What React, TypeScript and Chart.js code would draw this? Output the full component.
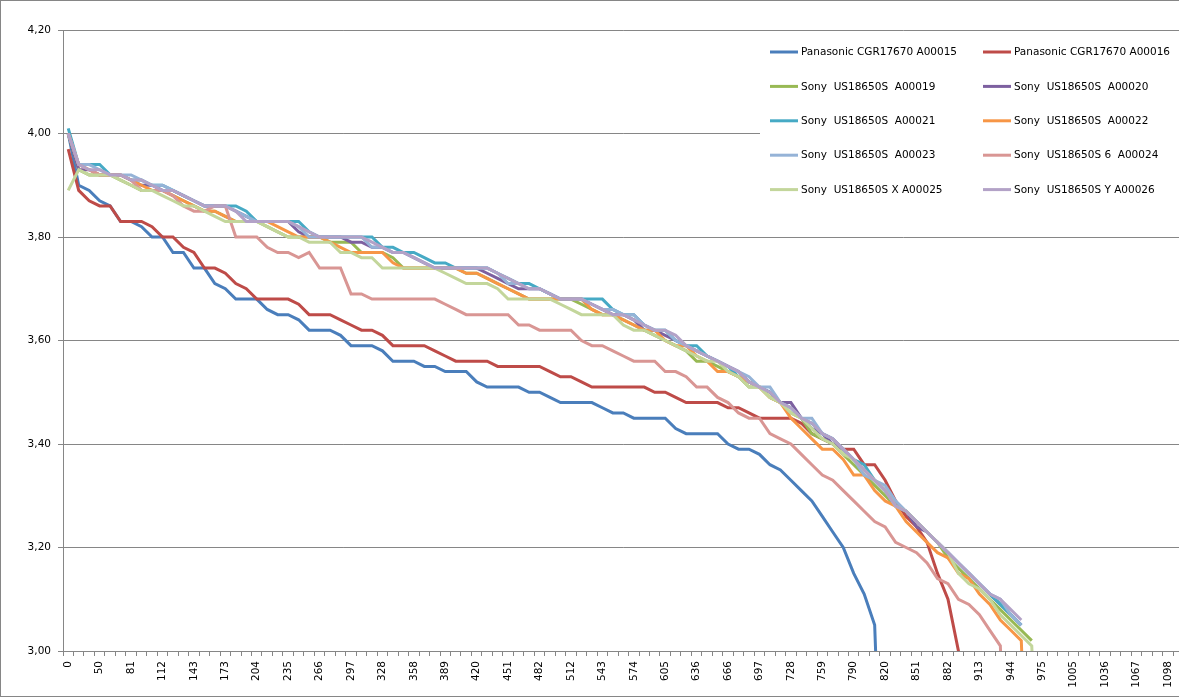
import { useEffect, useRef } from "react";
import Chart from "chart.js/auto";

Chart.defaults.font.family = "'DejaVu Sans', sans-serif";
Chart.defaults.font.size = 10.5;
Chart.defaults.color = "#000";

const AXIS = "#868686";

// time axis (every third value is labelled)
const TIME = [
  0, 29, 40, 50, 60, 71, 81, 91, 102, 112, 122, 133, 143, 153, 163, 173, 184, 194, 204, 215, 225, 235, 246, 256,
  266, 276, 287, 297, 307, 317, 328, 338, 348, 358, 369, 379, 389, 399, 410, 420, 430, 441, 451, 461, 471, 482,
  492, 502, 512, 523, 533, 543, 553, 564, 574, 584, 595, 605, 615, 625, 636, 646, 656, 666, 677, 687, 697, 707,
  718, 728, 738, 748, 759, 769, 779, 790, 800, 810, 820, 831, 841, 851, 861, 872, 882, 892, 902, 913, 923, 933,
  944, 954, 964, 975, 985, 995, 1005, 1016, 1026, 1036, 1046, 1057, 1067, 1077, 1087, 1098, 1108,
];

const A00015 = [
  4.0, 3.9, 3.89, 3.87, 3.86, 3.83, 3.83, 3.82, 3.8, 3.8,
  3.77, 3.77, 3.74, 3.74, 3.71, 3.7, 3.68, 3.68, 3.68, 3.66,
  3.65, 3.65, 3.64, 3.62, 3.62, 3.62, 3.61, 3.59, 3.59, 3.59,
  3.58, 3.56, 3.56, 3.56, 3.55, 3.55, 3.54, 3.54, 3.54, 3.52,
  3.51, 3.51, 3.51, 3.51, 3.5, 3.5, 3.49, 3.48, 3.48, 3.48,
  3.48, 3.47, 3.46, 3.46, 3.45, 3.45, 3.45, 3.45, 3.43, 3.42,
  3.42, 3.42, 3.42, 3.4, 3.39, 3.39, 3.38, 3.36, 3.35, 3.33,
  3.31, 3.29, 3.26, 3.23, 3.2, 3.15, 3.11, 3.05, 2.5,
];
const A00016 = [
  3.97, 3.89, 3.87, 3.86, 3.86, 3.83, 3.83, 3.83, 3.82, 3.8,
  3.8, 3.78, 3.77, 3.74, 3.74, 3.73, 3.71, 3.7, 3.68, 3.68,
  3.68, 3.68, 3.67, 3.65, 3.65, 3.65, 3.64, 3.63, 3.62, 3.62,
  3.61, 3.59, 3.59, 3.59, 3.59, 3.58, 3.57, 3.56, 3.56, 3.56,
  3.56, 3.55, 3.55, 3.55, 3.55, 3.55, 3.54, 3.53, 3.53, 3.52,
  3.51, 3.51, 3.51, 3.51, 3.51, 3.51, 3.5, 3.5, 3.49, 3.48,
  3.48, 3.48, 3.48, 3.47, 3.47, 3.46, 3.45, 3.45, 3.45, 3.45,
  3.44, 3.42, 3.41, 3.4, 3.39, 3.39, 3.36, 3.36, 3.33, 3.29,
  3.26, 3.24, 3.21, 3.15, 3.1, 3.0, 2.5,
];
const A00019 = [
  4.0, 3.93, 3.92, 3.92, 3.92, 3.91, 3.9, 3.89, 3.89, 3.89,
  3.88, 3.87, 3.86, 3.85, 3.85, 3.84, 3.83, 3.83, 3.83, 3.82,
  3.81, 3.8, 3.8, 3.8, 3.8, 3.79, 3.79, 3.79, 3.77, 3.77,
  3.77, 3.76, 3.74, 3.74, 3.74, 3.74, 3.74, 3.74, 3.73, 3.73,
  3.72, 3.71, 3.7, 3.69, 3.68, 3.68, 3.68, 3.68, 3.68, 3.67,
  3.66, 3.65, 3.65, 3.64, 3.63, 3.62, 3.61, 3.6, 3.59, 3.58,
  3.56, 3.56, 3.55, 3.54, 3.53, 3.51, 3.51, 3.49, 3.48, 3.46,
  3.45, 3.42, 3.41, 3.4, 3.38, 3.36, 3.34, 3.32, 3.3, 3.28,
  3.27, 3.25, 3.23, 3.21, 3.18, 3.16, 3.14, 3.12, 3.1, 3.08,
  3.06, 3.04, 3.02,
];
const A00020 = [
  4.0, 3.93, 3.93, 3.92, 3.92, 3.92, 3.91, 3.9, 3.9, 3.89,
  3.89, 3.88, 3.87, 3.86, 3.86, 3.86, 3.85, 3.84, 3.83, 3.83,
  3.83, 3.83, 3.81, 3.8, 3.8, 3.8, 3.8, 3.79, 3.79, 3.78,
  3.78, 3.77, 3.77, 3.76, 3.75, 3.74, 3.74, 3.74, 3.74, 3.74,
  3.73, 3.72, 3.71, 3.7, 3.7, 3.7, 3.69, 3.68, 3.68, 3.68,
  3.67, 3.66, 3.65, 3.65, 3.64, 3.62, 3.62, 3.61, 3.6, 3.59,
  3.58, 3.57, 3.56, 3.55, 3.54, 3.52, 3.51, 3.5, 3.48, 3.48,
  3.45, 3.43, 3.42, 3.4, 3.39, 3.37, 3.35, 3.33, 3.31, 3.28,
  3.27, 3.24, 3.23, 3.21, 3.19, 3.17, 3.15, 3.13, 3.11, 3.09,
  3.07, 3.05,
];
const A00021 = [
  4.01, 3.94, 3.94, 3.94, 3.92, 3.92, 3.91, 3.91, 3.9, 3.9,
  3.89, 3.88, 3.87, 3.86, 3.86, 3.86, 3.86, 3.85, 3.83, 3.83,
  3.83, 3.83, 3.83, 3.81, 3.8, 3.8, 3.8, 3.8, 3.8, 3.8,
  3.78, 3.78, 3.77, 3.77, 3.76, 3.75, 3.75, 3.74, 3.74, 3.74,
  3.74, 3.73, 3.72, 3.71, 3.71, 3.7, 3.69, 3.68, 3.68, 3.68,
  3.68, 3.68, 3.66, 3.65, 3.65, 3.63, 3.62, 3.62, 3.6, 3.59,
  3.59, 3.57, 3.56, 3.55, 3.53, 3.52, 3.51, 3.5, 3.48, 3.47,
  3.45, 3.44, 3.42, 3.41, 3.39, 3.37, 3.36, 3.33, 3.31, 3.28,
  3.27, 3.25, 3.23, 3.21, 3.19, 3.17, 3.15, 3.13, 3.11, 3.09,
  3.07, 3.05,
];
const A00022 = [
  4.0, 3.94, 3.93, 3.92, 3.92, 3.92, 3.91, 3.9, 3.89, 3.89,
  3.88, 3.87, 3.86, 3.85, 3.85, 3.84, 3.83, 3.83, 3.83, 3.83,
  3.82, 3.81, 3.8, 3.8, 3.8, 3.79, 3.78, 3.77, 3.77, 3.77,
  3.77, 3.75, 3.74, 3.74, 3.74, 3.74, 3.74, 3.74, 3.73, 3.73,
  3.72, 3.71, 3.7, 3.69, 3.68, 3.68, 3.68, 3.68, 3.68, 3.68,
  3.66, 3.65, 3.65, 3.64, 3.63, 3.62, 3.62, 3.6, 3.59, 3.59,
  3.57, 3.56, 3.54, 3.54, 3.53, 3.52, 3.51, 3.49, 3.48, 3.45,
  3.43, 3.41, 3.39, 3.39, 3.37, 3.34, 3.34, 3.31, 3.29, 3.28,
  3.25, 3.23, 3.21, 3.19, 3.18, 3.15, 3.14, 3.11, 3.09, 3.06,
  3.04, 3.02, 2.5,
];
const A00023 = [
  4.0, 3.94, 3.94, 3.93, 3.92, 3.92, 3.92, 3.91, 3.9, 3.9,
  3.89, 3.88, 3.87, 3.86, 3.86, 3.86, 3.85, 3.84, 3.83, 3.83,
  3.83, 3.83, 3.82, 3.8, 3.8, 3.8, 3.8, 3.8, 3.8, 3.78,
  3.78, 3.77, 3.77, 3.76, 3.75, 3.74, 3.74, 3.74, 3.74, 3.74,
  3.74, 3.73, 3.71, 3.71, 3.7, 3.7, 3.69, 3.68, 3.68, 3.68,
  3.67, 3.66, 3.66, 3.65, 3.65, 3.63, 3.62, 3.62, 3.6, 3.59,
  3.58, 3.57, 3.56, 3.55, 3.54, 3.53, 3.51, 3.51, 3.48, 3.47,
  3.45, 3.45, 3.42, 3.41, 3.39, 3.37, 3.34, 3.33, 3.32, 3.29,
  3.27, 3.25, 3.23, 3.21, 3.19, 3.17, 3.15, 3.13, 3.11, 3.1,
  3.07, 3.05,
];
const A00024 = [
  4.0, 3.94, 3.93, 3.92, 3.92, 3.92, 3.91, 3.89, 3.89, 3.89,
  3.88, 3.86, 3.85, 3.85, 3.86, 3.86, 3.8, 3.8, 3.8, 3.78,
  3.77, 3.77, 3.76, 3.77, 3.74, 3.74, 3.74, 3.69, 3.69, 3.68,
  3.68, 3.68, 3.68, 3.68, 3.68, 3.68, 3.67, 3.66, 3.65, 3.65,
  3.65, 3.65, 3.65, 3.63, 3.63, 3.62, 3.62, 3.62, 3.62, 3.6,
  3.59, 3.59, 3.58, 3.57, 3.56, 3.56, 3.56, 3.54, 3.54, 3.53,
  3.51, 3.51, 3.49, 3.48, 3.46, 3.45, 3.45, 3.42, 3.41, 3.4,
  3.38, 3.36, 3.34, 3.33, 3.31, 3.29, 3.27, 3.25, 3.24, 3.21,
  3.2, 3.19, 3.17, 3.14, 3.13, 3.1, 3.09, 3.07, 3.04, 3.01,
  2.5,
];
const A00025 = [
  3.89, 3.93, 3.92, 3.92, 3.92, 3.91, 3.9, 3.89, 3.89, 3.88,
  3.87, 3.86, 3.86, 3.85, 3.84, 3.83, 3.83, 3.83, 3.83, 3.82,
  3.81, 3.8, 3.8, 3.79, 3.79, 3.79, 3.77, 3.77, 3.76, 3.76,
  3.74, 3.74, 3.74, 3.74, 3.74, 3.74, 3.73, 3.72, 3.71, 3.71,
  3.71, 3.7, 3.68, 3.68, 3.68, 3.68, 3.68, 3.67, 3.66, 3.65,
  3.65, 3.65, 3.65, 3.63, 3.62, 3.62, 3.61, 3.6, 3.59, 3.58,
  3.57, 3.56, 3.56, 3.54, 3.53, 3.51, 3.51, 3.49, 3.48, 3.46,
  3.45, 3.43, 3.41, 3.4, 3.38, 3.37, 3.35, 3.33, 3.31, 3.28,
  3.27, 3.25, 3.23, 3.21, 3.19, 3.15, 3.13, 3.12, 3.1, 3.07,
  3.05, 3.03, 3.01, 2.5,
];
const A00026 = [
  4.0, 3.94, 3.93, 3.93, 3.92, 3.92, 3.91, 3.91, 3.9, 3.89,
  3.89, 3.88, 3.87, 3.86, 3.86, 3.86, 3.85, 3.83, 3.83, 3.83,
  3.83, 3.83, 3.82, 3.81, 3.8, 3.8, 3.8, 3.8, 3.8, 3.79,
  3.78, 3.77, 3.77, 3.76, 3.75, 3.74, 3.74, 3.74, 3.74, 3.74,
  3.74, 3.73, 3.72, 3.71, 3.7, 3.7, 3.69, 3.68, 3.68, 3.68,
  3.67, 3.66, 3.65, 3.65, 3.64, 3.63, 3.62, 3.62, 3.61, 3.59,
  3.58, 3.57, 3.56, 3.55, 3.54, 3.52, 3.51, 3.5, 3.48, 3.47,
  3.45, 3.44, 3.42, 3.41, 3.39, 3.37, 3.35, 3.33, 3.31, 3.28,
  3.27, 3.25, 3.23, 3.21, 3.19, 3.17, 3.15, 3.13, 3.11, 3.1,
  3.08, 3.06,
];

const NAMES = [
  "Panasonic CGR17670 A00015",
  "Panasonic CGR17670 A00016",
  "Sony  US18650S  A00019",
  "Sony  US18650S  A00020",
  "Sony  US18650S  A00021",
  "Sony  US18650S  A00022",
  "Sony  US18650S  A00023",
  "Sony  US18650S 6  A00024",
  "Sony  US18650S X A00025",
  "Sony  US18650S Y A00026",
];
const VALUES = [A00015, A00016, A00019, A00020, A00021, A00022, A00023, A00024, A00025, A00026];
const COLORS = ["#4A7EBB", "#BE4B48", "#98B954", "#7D60A0", "#46AAC5", "#F79646", "#95B3D7", "#D99694", "#C3D69B", "#B3A2C7"];

// legend drawn inside the plot, two columns, white box over the grid
const legendBox = {
  id: "legendBox",
  afterDraw(chart: Chart) {
    const { ctx } = chart;
    ctx.save();
    ctx.fillStyle = "#fff";
    ctx.fillRect(759, 32, chart.width - 759, 182);
    ctx.font = "10.5px 'DejaVu Sans', sans-serif";
    ctx.textBaseline = "middle";
    chart.data.datasets.forEach((ds, i) => {
      const x = i % 2 ? 982 : 769;
      const y = 51 + Math.floor(i / 2) * 34.4;
      ctx.strokeStyle = ds.borderColor as string;
      ctx.lineWidth = 3;
      ctx.beginPath();
      ctx.moveTo(x, y);
      ctx.lineTo(x + 28, y);
      ctx.stroke();
      ctx.fillStyle = "#000";
      ctx.fillText(ds.label as string, x + 31, y + 0.5);
    });
    ctx.restore();
  },
};

export default function App() {
  const ref = useRef<HTMLCanvasElement>(null);

  useEffect(() => {
    document.body.style.margin = "0";
    if (!ref.current) return;
    const chart = new Chart(ref.current, {
      type: "line",
      data: {
        labels: TIME.map(String),
        datasets: VALUES.map((v, i) => ({
          label: NAMES[i],
          data: v,
          borderColor: COLORS[i],
          backgroundColor: COLORS[i],
          borderWidth: 3,
          pointRadius: 0,
          tension: 0,
          order: VALUES.length - i,
        })),
      },
      options: {
        animation: false,
        responsive: true,
        maintainAspectRatio: false,
        events: [],
        layout: { padding: { top: 29, right: 2, left: 0, bottom: 0 } },
        plugins: { legend: { display: false }, tooltip: { enabled: false } },
        scales: {
          x: {
            type: "category",
            offset: true,
            afterFit: (s) => { s.height = 45; },
            grid: { offset: true, drawOnChartArea: false, color: AXIS, tickLength: 5 },
            border: { color: AXIS },
            ticks: {
              autoSkip: false,
              minRotation: 90,
              maxRotation: 90,
              padding: 5,
              callback(value, index) {
                return index % 3 === 0 ? this.getLabelForValue(value as number) : "";
              },
            },
          },
          y: {
            min: 3,
            max: 4.2,
            afterFit: (s) => { s.width = 62; },
            grid: { color: AXIS, tickLength: 5 },
            border: { color: AXIS },
            ticks: {
              stepSize: 0.2,
              padding: 7,
              callback: (v) => Number(v).toFixed(2).replace(".", ","),
            },
          },
        },
      },
      plugins: [legendBox],
    });
    return () => chart.destroy();
  }, []);

  return (
    <div
      style={{
        width: 1179,
        height: 697,
        boxSizing: "border-box",
        borderTop: `1px solid ${AXIS}`,
        borderLeft: `1px solid ${AXIS}`,
        borderBottom: `1px solid ${AXIS}`,
        overflow: "hidden",
        background: "#fff",
      }}
    >
      <div style={{ position: "relative", width: 1195, height: 695 }}>
        <canvas ref={ref} />
      </div>
    </div>
  );
}
